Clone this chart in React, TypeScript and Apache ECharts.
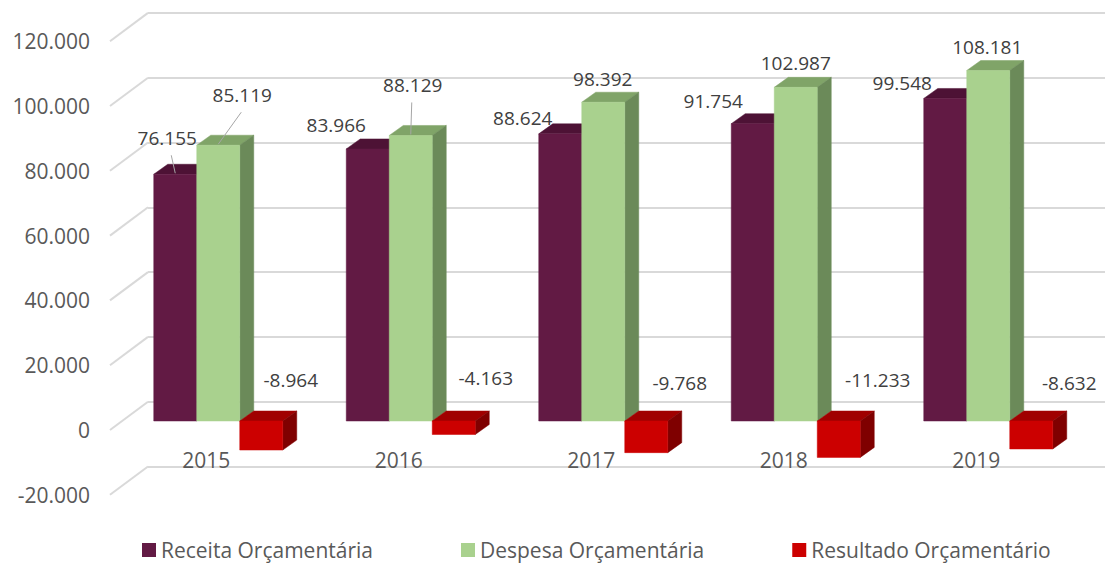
import React, { useEffect, useRef } from "react";
import * as echarts from "echarts";

// ---------- data ----------
const CATEGORIES = ["2015", "2016", "2017", "2018", "2019"];
const RECEITA = [76155, 83966, 88624, 91754, 99548];
const DESPESA = [85119, 88129, 98392, 102987, 108181];
const RESULTADO = [-8964, -4163, -9768, -11233, -8632];
const Y_TICKS = [-20000, 0, 20000, 40000, 60000, 80000, 100000, 120000];
const SERIES_NAMES = ["Receita Orçamentária", "Despesa Orçamentária", "Resultado Orçamentário"];

// ---------- label placement (pixel offsets from the bar's top-front centre) ----------
const RECEITA_LABEL_OFFSETS = [[-8, -36], [-31.5, -24], [-37.5, -16], [-39.5, -23], [-43, -15]];
const DESPESA_LABEL_OFFSETS = [[24, -50], [2, -50], [-0.5, -23], [0, -24], [-1, -23.4]];
const RESULTADO_LABEL_OFFSETS = [[29.5, -41], [32, -43], [33.5, -38], [39, -41], [38, -38.3]];
const RECEITA_LEADERS = [true, false, false, false, false];
const DESPESA_LEADERS = [true, true, false, false, false];
const RESULTADO_LEADERS = [false, false, false, false, false];

// ---------- styles ----------
const FONT = "'Open Sans', 'Noto Sans', sans-serif";
const BAR_FRAC = 43 / 192.5;
const DEPTH: [number, number] = [14, -10];
const WALL: [number, number] = [38, -28.3];
const PALETTES = [
  { front: "#621A44", top: "#4D1235", side: "#44102F" },
  { front: "#A9D18E", top: "#80A468", side: "#6B8A59" },
  { front: "#CC0000", top: "#A00000", side: "#7F0000" },
];

function fmt(n: number): string {
  const s = Math.abs(Math.round(n)).toString().replace(/\B(?=(\d{3})+(?!\d))/g, ".");
  return (n < 0 ? "-" : "") + s;
}

function makeBarRenderer(slot: number, pal: any, offsets: number[][], leaders: boolean[]) {
  return (params: any, api: any) => {
    const i = params.dataIndex;
    const ci = api.value(0);
    const v = api.value(1);
    const band = api.size([1, 0])[0];
    const bw = band * BAR_FRAC;
    const pv = api.coord([ci, v]);
    const p0 = api.coord([ci, 0]);
    const cx = pv[0] + slot * bw;
    const x0 = cx - bw / 2;
    const x1 = cx + bw / 2;
    const yT = Math.min(pv[1], p0[1]);
    const yB = Math.max(pv[1], p0[1]);
    const [dx, dy] = DEPTH;
    const children: any[] = [
      {
        type: "polygon",
        shape: { points: [[x0, yT], [x1, yT], [x1 + dx, yT + dy], [x0 + dx, yT + dy]] },
        style: { fill: pal.top, stroke: pal.top, lineWidth: 0.5 },
      },
      {
        type: "polygon",
        shape: { points: [[x1, yT], [x1 + dx, yT + dy], [x1 + dx, yB + dy], [x1, yB]] },
        style: { fill: pal.side, stroke: pal.side, lineWidth: 0.5 },
      },
      {
        type: "rect",
        shape: { x: x0, y: yT, width: bw, height: yB - yT },
        style: { fill: pal.front, stroke: pal.front, lineWidth: 0.5 },
      },
    ];
    const off = offsets[i];
    const lx = cx + off[0];
    const ly = yT + off[1];
    if (leaders[i]) {
      const sx = lx + Math.max(-1, Math.min(4, cx - lx));
      children.push({
        type: "line",
        shape: { x1: sx, y1: ly + 17, x2: cx, y2: yT - 1 },
        style: { stroke: "#A6A6A6", lineWidth: 1 },
        z2: 90,
      });
    }
    children.push({
      type: "text",
      x: lx,
      y: ly,
      style: {
        text: fmt(v),
        fill: "#404040",
        fontSize: 19,
        fontFamily: FONT,
        align: "center",
        verticalAlign: "middle",
      },
      z2: 100,
    });
    return { type: "group", children };
  };
}

export default function App() {
  const ref = useRef<HTMLDivElement>(null);
  useEffect(() => {
    if (!ref.current) return;
    const chart = echarts.init(ref.current, undefined, { renderer: "svg" });
    const yBase = {
      type: "value",
      min: Y_TICKS[0],
      max: Y_TICKS[Y_TICKS.length - 1],
      interval: Y_TICKS[1] - Y_TICKS[0],
    };
    const seriesData = [RECEITA, DESPESA, RESULTADO];
    const offsets = [RECEITA_LABEL_OFFSETS, DESPESA_LABEL_OFFSETS, RESULTADO_LABEL_OFFSETS];
    const leaders = [RECEITA_LEADERS, DESPESA_LEADERS, RESULTADO_LEADERS];
    const option: any = {
      animation: false,
      textStyle: { fontFamily: FONT },
      grid: [
        // bar plane
        { left: 122, right: 20.5, top: 32.2, bottom: 79.2 },
        // back wall
        { left: 148, right: 0, top: 12.9, bottom: 98.5 },
        // front plane
        { left: 110, right: 32.5, top: 41.2, bottom: 70.2 },
        // front plane, cut at the zero line (category labels)
        { left: 110, right: 32.5, top: 41.2, bottom: 135 },
      ],
      xAxis: [
        { type: "category", gridIndex: 0, data: CATEGORIES, show: false },
        { type: "category", gridIndex: 1, data: CATEGORIES, show: false },
        { type: "category", gridIndex: 2, data: CATEGORIES, show: false },
        {
          type: "category",
          gridIndex: 3,
          data: CATEGORIES,
          position: "bottom",
          axisLine: { show: false },
          axisTick: { show: false },
          splitLine: { show: false },
          axisLabel: { fontSize: 21, color: "#595959", margin: 19, fontFamily: FONT },
        },
      ],
      yAxis: [
        { ...yBase, gridIndex: 0, show: false },
        {
          ...yBase,
          gridIndex: 1,
          axisLine: { show: false },
          axisTick: { show: false },
          axisLabel: { show: false },
          splitLine: { show: true, lineStyle: { color: "#D9D9D9", width: 2 } },
        },
        {
          ...yBase,
          gridIndex: 2,
          axisLine: { show: false },
          axisTick: { show: false },
          splitLine: { show: false },
          axisLabel: {
            fontSize: 21,
            color: "#595959",
            margin: 20,
            fontFamily: FONT,
            formatter: (v: number) => fmt(v),
          },
        },
        { type: "value", gridIndex: 3, show: false, min: 0, max: 1 },
      ],
      legend: {
        left: 142,
        top: 539,
        padding: 0,
        itemWidth: 14,
        itemHeight: 14,
        itemGap: 88,
        icon: "rect",
        textStyle: { fontSize: 21, lineHeight: 22, color: "#595959", fontFamily: FONT },
        data: SERIES_NAMES,
      },
      series: [
        {
          type: "custom",
          name: "walls",
          xAxisIndex: 2,
          yAxisIndex: 2,
          silent: true,
          z: 1,
          data: Y_TICKS.map((t) => [0, t]),
          encode: { x: 0, y: 1 },
          renderItem: (params: any, api: any) => {
            const p = api.coord([0, api.value(1)]);
            const x = params.coordSys.x;
            return {
              type: "line",
              shape: { x1: x, y1: p[1], x2: x + WALL[0], y2: p[1] + WALL[1] },
              style: { stroke: "#D9D9D9", lineWidth: 2 },
            };
          },
        },
        ...SERIES_NAMES.map((name, k) => ({
          type: "custom",
          name,
          xAxisIndex: 0,
          yAxisIndex: 0,
          z: 2,
          itemStyle: { color: PALETTES[k].front },
          data: seriesData[k].map((v, i) => [i, v]),
          encode: { x: 0, y: 1 },
          renderItem: makeBarRenderer(k - 1, PALETTES[k], offsets[k], leaders[k]),
        })),
      ],
    };
    chart.setOption(option);
    return () => chart.dispose();
  }, []);
  return (
    <div
      ref={ref}
      style={{ position: "fixed", left: 0, top: 0, width: 1105, height: 565, background: "#fff" }}
    />
  );
}
